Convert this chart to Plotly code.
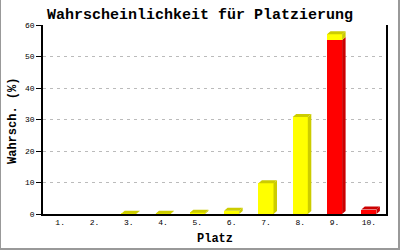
import plotly.graph_objects as go

# ---- data ----
categories = ["1.", "2.", "3.", "4.", "5.", "6.", "7.", "8.", "9.", "10."]
yellow_vals = [0, 0, 0.1, 0.1, 0.4, 1.0, 9.8, 30.8, 1.9, 0]
red_vals = [0, 0, 0, 0, 0, 0, 0, 0, 55.2, 1.4]
y_ticks = [0, 10, 20, 30, 40, 50, 60]

W, H = 400, 250
ML, MR, MT, MB = 43, 14, 25, 36
PW, PH = W - ML - MR, H - MT - MB
YMAX = 60

xs = list(range(1, len(categories) + 1))
bw = 0.44
dx = 3.5 / (PW / len(categories))   # 3D depth in category units
dy = 3.0 / (PH / YMAX)              # 3D depth in value units

YEL, YEL_D = "#FFFF00", "#CCCC00"
RED, RED_D = "#FF0000", "#CC0000"

fig = go.Figure()

# front faces (stacked: red base, yellow on top)
fig.add_trace(go.Bar(x=xs, y=red_vals, width=bw, marker=dict(color=RED, line=dict(width=0)), hoverinfo="skip"))
fig.add_trace(go.Bar(x=xs, y=yellow_vals, width=bw, marker=dict(color=YEL, line=dict(width=0)), hoverinfo="skip"))


def poly_trace(px, py, color):
    return go.Scatter(x=px, y=py, mode="lines", fill="toself", fillcolor=color,
                      line=dict(width=0, color=color), hoverinfo="skip", showlegend=False)


side_x = {RED_D: [], YEL_D: []}
side_y = {RED_D: [], YEL_D: []}
top_x = {RED_D: [], YEL_D: []}
top_y = {RED_D: [], YEL_D: []}

for x, r, yv in zip(xs, red_vals, yellow_vals):
    segs = []
    if r > 0:
        segs.append((0, r, RED_D))
    if yv > 0:
        segs.append((r, r + yv, YEL_D))
    for i, (b0, b1, c) in enumerate(segs):
        xr = x + bw / 2
        xl = x - bw / 2
        # side face
        side_x[c] += [xr, xr, xr + dx, xr + dx, xr, None]
        side_y[c] += [b0, b1, b1 + dy, b0 + dy, b0, None]
        if i == len(segs) - 1:
            top_x[c] += [xl, xr, xr + dx, xl + dx, xl, None]
            top_y[c] += [b1, b1, b1 + dy, b1 + dy, b1, None]

for c in (RED_D, YEL_D):
    if side_x[c]:
        fig.add_trace(poly_trace(side_x[c], side_y[c], c))
    if top_x[c]:
        fig.add_trace(poly_trace(top_x[c], top_y[c], c))

mono = "Liberation Mono, DejaVu Sans Mono, monospace"

fig.update_layout(
    width=W, height=H,
    margin=dict(l=ML, r=MR, t=MT, b=MB, pad=0),
    barmode="stack",
    bargap=0,
    showlegend=False,
    paper_bgcolor="white",
    plot_bgcolor="white",
    title=dict(text="Wahrscheinlichkeit für Platzierung", x=0.5, xanchor="center",
               y=1 - 14 / H, yanchor="middle", yref="container",
               font=dict(family=mono, size=15, color="black", weight="bold")),
    xaxis=dict(range=[0.5, len(categories) + 0.5], tickvals=xs, ticktext=categories,
               showgrid=False, zeroline=False, showline=True, linecolor="black", linewidth=1.5,
               ticks="", tickfont=dict(family=mono, size=8, color="black"), fixedrange=True),
    yaxis=dict(range=[0, YMAX], tickvals=y_ticks, showgrid=True, gridcolor="#BBBBBB",
               griddash="3px,4px", gridwidth=1, zeroline=False, showline=True,
               linecolor="black", linewidth=1.5, mirror=True, ticks="outside", ticklen=5,
               tickcolor="black", tickfont=dict(family=mono, size=8, color="black"),
               fixedrange=True),
    annotations=[
        dict(text="Platz", xref="paper", yref="paper", x=0.5, y=(PH - (239 - MT)) / PH,
             xanchor="center", yanchor="middle", showarrow=False,
             font=dict(family=mono, size=12, color="black", weight="bold")),
        dict(text="Wahrsch. (%)", xref="paper", yref="paper", x=(13 - ML) / PW, y=(PH - (121 - MT)) / PH,
             xanchor="center", yanchor="middle", showarrow=False, textangle=-90,
             font=dict(family=mono, size=12, color="black", weight="bold")),
    ],
)


def px2x(p):
    return (p - ML) / PW


def px2y(p):
    return (H - MB - p) / PH


frame = "#999999"
fig.add_shape(type="line", xref="paper", yref="paper", x0=px2x(0.5), x1=px2x(0.5), y0=px2y(0), y1=px2y(249), line=dict(color=frame, width=1))
fig.add_shape(type="line", xref="paper", yref="paper", x0=px2x(399), x1=px2x(399), y0=px2y(0), y1=px2y(250), line=dict(color=frame, width=2))
fig.add_shape(type="line", xref="paper", yref="paper", x0=px2x(0), x1=px2x(400), y0=px2y(249), y1=px2y(249), line=dict(color=frame, width=2))

fig.write_html("out.html")
